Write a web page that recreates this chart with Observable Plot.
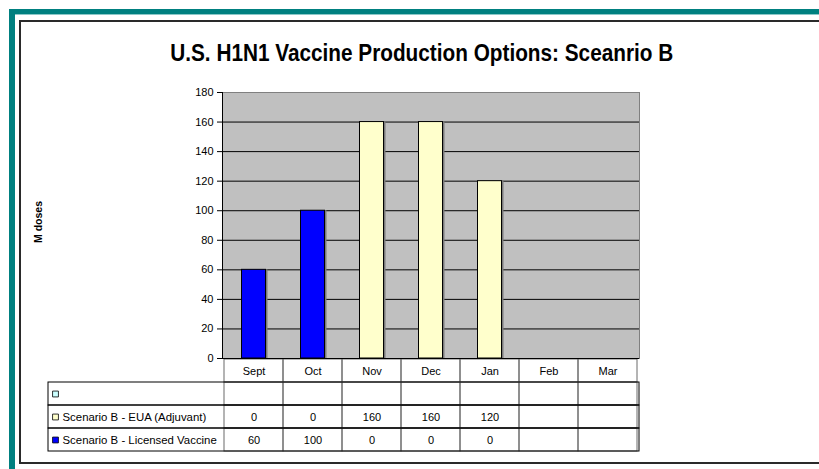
<!DOCTYPE html>
<html>
<head>
<meta charset="utf-8">
<script src="https://cdn.jsdelivr.net/npm/d3@7"></script>
<script src="https://cdn.jsdelivr.net/npm/@observablehq/plot@0.6"></script>
<style>
  html, body { margin: 0; padding: 0; background: #ffffff; }
  #page { position: relative; width: 819px; height: 469px; overflow: hidden; background: #ffffff;
          font-family: "Liberation Sans", Arial, sans-serif; }
  .teal { position: absolute; left: 9px; top: 9px; width: 900px; height: 600px; box-sizing: border-box;
          border-top: 6px solid #008080; border-left: 6px solid #008080; }
  .tealline { position: absolute; left: 15px; top: 14px; width: 900px; height: 1px; background: #8cc8c8; }
  .inner { position: absolute; left: 19px; top: 20px; width: 900px; height: 444px; box-sizing: border-box;
           border: 2px solid #2a2a2a; border-right: none; }
  #title { position: absolute; left: 0; top: 41.4px; width: 844px; text-align: center; line-height: 24px;
           font-size: 24px; font-weight: bold; color: #000; white-space: nowrap; }
  #title span { display: inline-block; transform: scaleX(0.865); transform-origin: center; }
  #ylabel { position: absolute; left: 38px; top: 221.5px; transform: translate(-50%, -50%) rotate(-90deg);
            font-size: 10.5px; line-height: 10.5px; font-weight: bold; white-space: nowrap; color: #000; }
  .layer { position: absolute; left: 0; }
  .layer svg { overflow: visible; }
</style>
</head>
<body>
<div id="page">
  <div class="teal"></div>
  <div class="tealline"></div>
  <div class="inner"></div>
  <div id="title"><span>U.S. H1N1 Vaccine Production Options: Sceanrio B</span></div>
  <div id="ylabel">M doses</div>
  <div id="table" class="layer" style="top:356px"></div>
  <div id="chart" class="layer" style="top:0px"></div>
</div>
<script>
// ---- data ----
const months = ["Sept", "Oct", "Nov", "Dec", "Jan", "Feb", "Mar"];
const euaValues = [0, 0, 160, 160, 120, null, null];
const licensedValues = [60, 100, 0, 0, 0, null, null];
const seriesNames = ["Scenario B - EUA (Adjuvant)", "Scenario B - Licensed Vaccine"];
const yTicks = [0, 20, 40, 60, 80, 100, 120, 140, 160, 180];
const blankLegend = "";

// ---- derived tables ----
const data = months.flatMap((m, i) => [
  {month: m, series: seriesNames[0], value: euaValues[i]},
  {month: m, series: seriesNames[1], value: licensedValues[i]}
]);
const barsData = data.filter(d => d.value != null && d.value > 0);
const rowKeys = ["months", "blank", seriesNames[0], seriesNames[1]];
const legendRows = [
  {key: "blank", label: blankLegend},
  {key: seriesNames[0], label: seriesNames[0]},
  {key: seriesNames[1], label: seriesNames[1]}
];
const gridCells = rowKeys.flatMap(r => months.map(m => ({month: m, row: r})));

const font = {fontFamily: "'Liberation Sans', Arial, sans-serif", fontSize: "11px", background: "transparent", color: "#000"};

// ---- chart ----
const chart = Plot.plot({
  width: 819, height: 469,
  marginLeft: 222, marginRight: 180, marginTop: 92, marginBottom: 111,
  style: font,
  x: {type: "band", domain: months, padding: 0, axis: null},
  y: {domain: [0, 180], axis: null},
  color: {domain: seriesNames, range: ["#FFFFCC", "#0000FF"]},
  marks: [
    Plot.frame({fill: "#C0C0C0", stroke: "#808080"}),
    Plot.ruleY(yTicks.filter(t => t > 0 && t < 180), {stroke: "#000"}),
    Plot.barY(barsData, {x: "month", y: "value", fill: "#7a7a7a", dx: 2, insetLeft: 17.5, insetRight: 17.5}),
    Plot.barY(barsData, {x: "month", y: "value", fill: "series", stroke: "#000", strokeWidth: 1, insetLeft: 17.5, insetRight: 17.5}),
    Plot.axisY({ticks: yTicks, tickSize: 5, tickPadding: 4, tickFormat: d => String(d), label: null}),
    Plot.ruleY([0], {stroke: "#000"}),
    Plot.frame({anchor: "left", stroke: "#000"})
  ]
});
document.getElementById("chart").appendChild(chart);

// ---- data table ----
const table = Plot.plot({
  width: 819, height: 113,
  marginLeft: 48, marginRight: 180, marginTop: 2, marginBottom: 17,
  style: font,
  x: {type: "band", domain: months, range: [222, 639], padding: 0, axis: null},
  y: {type: "band", domain: rowKeys, range: [2, 96], padding: 0, axis: null},
  color: {domain: ["blank", seriesNames[0], seriesNames[1]], range: ["#CCFFFF", "#FFFFCC", "#0000FF"]},
  marks: [
    Plot.cell(gridCells, {x: "month", y: "row", fill: "none", stroke: "#6a6a6a"}),
    Plot.cell(legendRows, {y: "key", fill: "none", stroke: "#000"}),
    Plot.text(months, {x: d => d, y: () => "months", fill: "#000"}),
    Plot.dot(legendRows, {y: "key", frameAnchor: "left", dx: 7, symbol: "square", r: 3.3, fill: "key", stroke: "#000", strokeWidth: 0.8}),
    Plot.text(legendRows, {y: "key", text: "label", frameAnchor: "left", textAnchor: "start", dx: 14, fill: "#000", fontSize: 11.4}),
    Plot.text(data.filter(d => d.value != null), {x: "month", y: "series", text: d => String(d.value), fill: "#000"})
  ]
});
document.getElementById("table").appendChild(table);
</script>
</body>
</html>
